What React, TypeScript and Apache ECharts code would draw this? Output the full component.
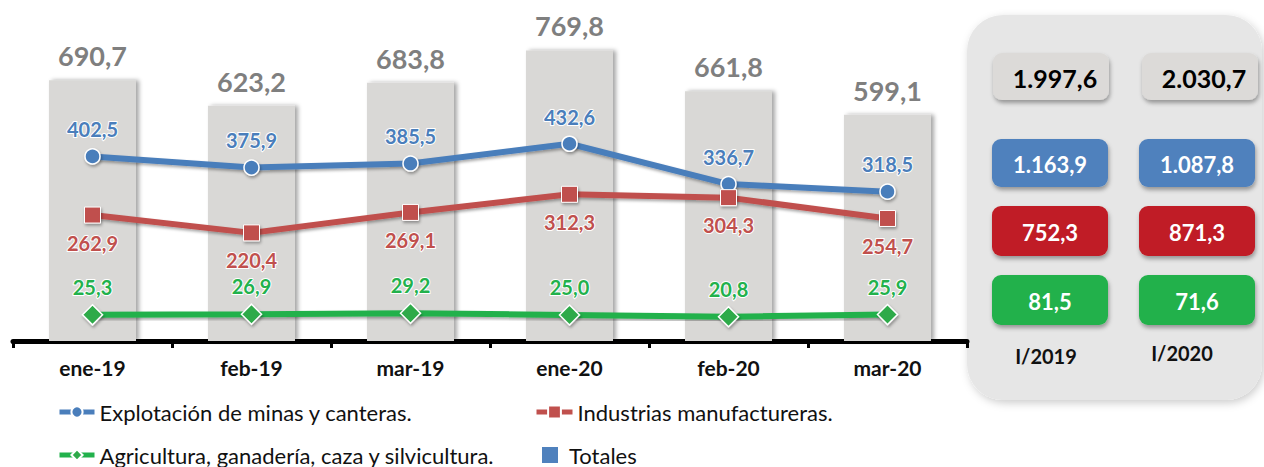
import React, { useEffect, useRef } from "react";
import * as echarts from "echarts";

const categories = ["ene-19", "feb-19", "mar-19", "ene-20", "feb-20", "mar-20"];
const totals = [690.7, 623.2, 683.8, 769.8, 661.8, 599.1];
const mining = [402.5, 375.9, 385.5, 432.6, 336.7, 318.5];
const manufacturing = [262.9, 220.4, 269.1, 312.3, 304.3, 254.7];
const agriculture = [25.3, 26.9, 29.2, 25.0, 20.8, 25.9];

const periodLabels = ["I/2019", "I/2020"];
const periodTotals = [1997.6, 2030.7];
const periodMining = [1163.9, 1087.8];
const periodManufacturing = [752.3, 871.3];
const periodAgriculture = [81.5, 71.6];

const NAME_MIN = "Explotación de minas y canteras.";
const NAME_IND = "Industrias manufactureras.";
const NAME_AGR = "Agricultura, ganadería, caza y silvicultura.";
const NAME_TOT = "Totales";

const FONT = "Lato";

function fmt(n: number): string {
  const [i, d] = n.toFixed(1).split(".");
  const withDots = i.replace(/\B(?=(\d{3})+(?!\d))/g, ".");
  return withDots + "," + d;
}

export default function App() {
  const ref = useRef<HTMLDivElement>(null);

  useEffect(() => {
    if (!ref.current) return;
    const chart = echarts.init(ref.current, undefined, { renderer: "svg" });

    const shadow = {
      shadowColor: "rgba(0,0,0,0.35)",
      shadowBlur: 3,
      shadowOffsetX: 1,
      shadowOffsetY: 2,
    };

    const colX = [992, 1139];
    const boxW = 116;
    const rows = [
      { vals: periodTotals, y: 53, h: 47, fill: "#dcdad8", text: "#000", size: 25 },
      { vals: periodMining, y: 139, h: 48, fill: "#4f81bd", text: "#fff", size: 22 },
      { vals: periodManufacturing, y: 206, h: 50, fill: "#c01f27", text: "#fff", size: 22 },
      { vals: periodAgriculture, y: 275, h: 50, fill: "#21b14c", text: "#fff", size: 22 },
    ];

    const panelGraphics: any[] = [
      {
        type: "rect",
        shape: { x: 967, y: 15, width: 295, height: 385, r: 36 },
        style: {
          fill: "#e6e6e6",
          shadowColor: "rgba(0,0,0,0.2)",
          shadowBlur: 8,
          shadowOffsetX: 2,
          shadowOffsetY: 3,
        },
        z: 0,
      },
    ];
    rows.forEach((row, ri) => {
      row.vals.forEach((v, ci) => {
        const x = colX[ci] + (ri === 0 ? (ci === 1 ? 3 : 1) : 0);
        panelGraphics.push({
          type: "rect",
          shape: { x, y: row.y, width: boxW, height: row.h, r: 9 },
          style: {
            fill: row.fill,
            shadowColor: "rgba(0,0,0,0.35)",
            shadowBlur: 4,
            shadowOffsetX: 1,
            shadowOffsetY: 3,
          },
          z: 1,
        });
        panelGraphics.push({
          type: "text",
          x: x + boxW / 2 + (ri === 0 ? 4 : 0),
          y: row.y + row.h / 2 + 1,
          style: {
            text: fmt(v),
            fill: row.text,
            font: `bold ${row.size}px ${FONT}`,
            align: "center",
            verticalAlign: "middle",
          },
          z: 2,
        });
      });
    });
    const periodX = [1046, 1182];
    periodLabels.forEach((p, i) => {
      panelGraphics.push({
        type: "text",
        x: periodX[i],
        y: i === 0 ? 356 : 353,
        style: {
          text: p,
          fill: "#111",
          font: `bold 20px ${FONT}`,
          align: "center",
          verticalAlign: "middle",
        },
        z: 2,
      });
    });

    const legendText = { fontFamily: FONT, fontSize: 22, color: "#111" };
    const legendLine = { width: 5 };

    chart.setOption({
      animation: false,
      textStyle: { fontFamily: FONT },
      grid: { left: 13, right: 297, top: 39, bottom: 126, containLabel: false },
      legend: [
        {
          data: [NAME_MIN],
          left: 57,
          top: 401,
          padding: 0,
          itemWidth: 35,
          itemHeight: 14,
          lineStyle: legendLine,
          textStyle: legendText,
        },
        {
          data: [NAME_IND],
          left: 534,
          top: 401,
          padding: 0,
          itemWidth: 36,
          itemHeight: 16,
          lineStyle: legendLine,
          textStyle: legendText,
        },
        {
          data: [NAME_AGR],
          left: 57,
          top: 444,
          padding: 0,
          itemWidth: 35,
          itemHeight: 14,
          lineStyle: legendLine,
          textStyle: legendText,
        },
        {
          data: [{ name: NAME_TOT, itemStyle: { color: "#4f81bd", shadowBlur: 0, shadowOffsetX: 0, shadowOffsetY: 0 } }],
          left: 542,
          top: 444,
          padding: 0,
          icon: "rect",
          itemWidth: 16,
          itemHeight: 16,
          textStyle: { ...legendText, padding: [0, 0, 0, 6] },
        },
      ],
      xAxis: {
        type: "category",
        data: categories,
        boundaryGap: true,
        axisLine: { show: true, lineStyle: { color: "#000", width: 5 } },
        axisTick: { show: true, length: 7, lineStyle: { color: "#000", width: 3 } },
        axisLabel: {
          color: "#111",
          fontFamily: FONT,
          fontWeight: "bold",
          fontSize: 21,
          margin: 16,
        },
      },
      yAxis: [
        { type: "value", min: 0, max: 800, show: false },
        { type: "value", min: -37, max: 682, show: false },
      ],
      graphic: panelGraphics,
      series: [
        {
          name: NAME_TOT,
          type: "bar",
          yAxisIndex: 0,
          data: totals,
          barWidth: 87,
          z: 1,
          itemStyle: {
            color: "#d9d8d6",
            shadowColor: "rgba(0,0,0,0.35)",
            shadowBlur: 4,
            shadowOffsetX: 3,
            shadowOffsetY: 0,
          },
          label: {
            show: true,
            position: "top",
            distance: 11,
            color: "#7f7f7f",
            fontFamily: FONT,
            fontWeight: "bold",
            fontSize: 27,
            formatter: (p: any) => fmt(p.value),
          },
        },
        {
          name: NAME_MIN,
          type: "line",
          yAxisIndex: 1,
          data: mining,
          z: 3,
          symbol: "circle",
          symbolSize: 15,
          lineStyle: { color: "#4a7ebb", width: 6, ...shadow },
          itemStyle: { color: "#4a7ebb", borderColor: "#fff", borderWidth: 1.5, ...shadow },
          label: {
            show: true,
            position: "top",
            distance: 9,
            color: "#4a7ebb",
            fontFamily: FONT,
            fontWeight: "bold",
            fontSize: 20,
            textBorderColor: "#fff",
            textBorderWidth: 2,
            formatter: (p: any) => fmt(p.value),
          },
        },
        {
          name: NAME_IND,
          type: "line",
          yAxisIndex: 1,
          data: manufacturing,
          z: 3,
          symbol: "rect",
          symbolSize: 16,
          lineStyle: { color: "#c0504d", width: 6, ...shadow },
          itemStyle: { color: "#c0504d", borderColor: "#fff", borderWidth: 1, ...shadow },
          label: {
            show: true,
            position: "bottom",
            distance: 9,
            color: "#c0504d",
            fontFamily: FONT,
            fontWeight: "bold",
            fontSize: 20,
            textBorderColor: "#fff",
            textBorderWidth: 2,
            formatter: (p: any) => fmt(p.value),
          },
        },
        {
          name: NAME_AGR,
          type: "line",
          yAxisIndex: 1,
          data: agriculture,
          z: 3,
          symbol: "diamond",
          symbolSize: 20,
          lineStyle: { color: "#22b14c", width: 6, ...shadow },
          itemStyle: { color: "#2eaa4a", borderColor: "#fff", borderWidth: 1.5, ...shadow },
          label: {
            show: true,
            position: "top",
            distance: 7,
            color: "#22b14c",
            fontFamily: FONT,
            fontWeight: "bold",
            fontSize: 20,
            textBorderColor: "#fff",
            textBorderWidth: 2,
            formatter: (p: any) => fmt(p.value),
          },
        },
      ],
    });

    return () => chart.dispose();
  }, []);

  return (
    <div
      ref={ref}
      style={{ position: "absolute", left: 0, top: 0, width: 1264, height: 467, background: "#fff" }}
    />
  );
}
